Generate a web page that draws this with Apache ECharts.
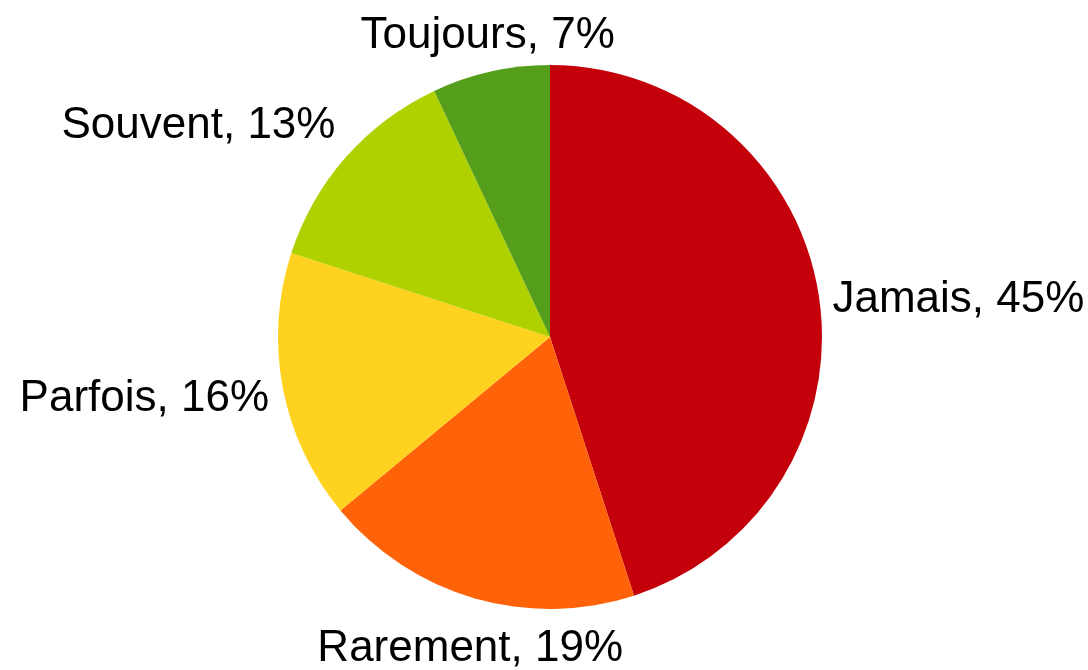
<!DOCTYPE html>
<html>
<head>
<meta charset="utf-8">
<script src="https://cdn.jsdelivr.net/npm/echarts@6/dist/echarts.min.js"></script>
<style>html,body{margin:0;padding:0;background:#fff}#c{width:1088px;height:670px}</style>
</head>
<body>
<div id="c"></div>
<script>
const categories = ['Jamais', 'Rarement', 'Parfois', 'Souvent', 'Toujours'];
const values = [45, 19, 16, 13, 7];
const colors = ['#C4000B', '#FF630A', '#FFD21F', '#AFD100', '#559E1B'];

const CX = 550, CY = 337, R = 272, GAP = 14;
const total = values.reduce((a, b) => a + b, 0);
const cum = [];
values.reduce((acc, v, i) => { cum[i] = acc; return acc + v; }, 0);

const chart = echarts.init(document.getElementById('c'), null, {renderer: 'canvas'});
chart.setOption({
  animation: false,
  backgroundColor: '#fff',
  series: [{
    type: 'pie',
    center: [CX, CY],
    radius: [0, R],
    startAngle: 90,
    clockwise: true,
    avoidLabelOverlap: false,
    itemStyle: {borderWidth: 0},
    label: {
      show: true,
      position: 'outside',
      formatter: p => p.name + ', ' + p.value + '%',
      fontFamily: 'Liberation Sans',
      fontSize: 44,
      color: '#000'
    },
    labelLine: {show: false},
    labelLayout: function (p) {
      const i = p.dataIndex;
      const a = (cum[i] + values[i] / 2) / total * 2 * Math.PI;
      const ux = Math.sin(a), uy = -Math.cos(a);
      const px = CX + (R + GAP) * ux, py = CY + (R + GAP) * uy;
      let deg = 90 - a * 180 / Math.PI;
      const snap = Math.round(deg / 45) * 45 * Math.PI / 180;
      const sx = Math.round(Math.cos(snap)), sy = -Math.round(Math.sin(snap));
      const align = sx > 0 ? 'left' : (sx < 0 ? 'right' : 'center');
      const va = sy > 0 ? 'top' : (sy < 0 ? 'bottom' : 'middle');
      const dy = va === 'top' ? 15 : (va === 'middle' ? 8 : 0);
      return {x: px, y: py + dy, align: align, verticalAlign: va};
    },
    data: categories.map((c, i) => ({name: c, value: values[i], itemStyle: {color: colors[i]}}))
  }]
});
</script>
</body>
</html>
